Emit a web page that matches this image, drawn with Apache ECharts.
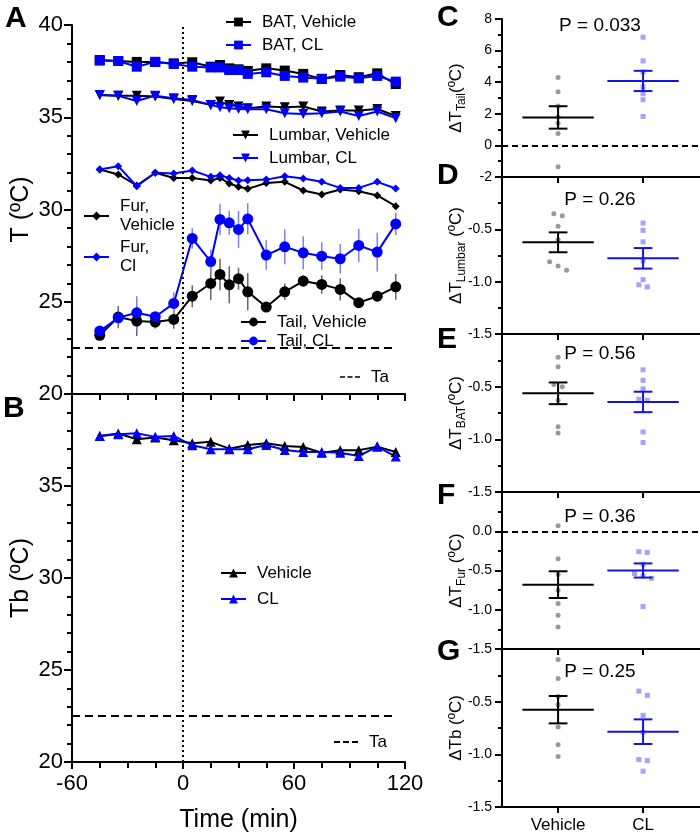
<!DOCTYPE html>
<html><head><meta charset="utf-8">
<script src="https://cdn.jsdelivr.net/npm/echarts@6/dist/echarts.min.js"></script>
<style>html,body{margin:0;padding:0;background:#fff}#c{width:700px;height:838px}</style>
</head><body><div id="c"></div>
<script>
const FONT = 'Liberation Sans, Arial, sans-serif';
const BLUE = '#0000ff';
// ---- Panel A / B data ----
const timesA = [-45,-35,-25,-15,-5,5,15,20,25,30,35,45,55,65,75,85,95,105,115];
const timesB = [-45,-35,-25,-15,-5,5,15,25,35,45,55,65,75,85,95,105,115];
const batVeh = [38.1,38.05,38.0,38.0,37.92,37.98,37.74,37.83,37.65,37.6,37.51,37.65,37.53,37.35,37.08,37.29,37.17,37.38,36.8];
const batCL  = [38.07,38.05,37.74,38.0,37.89,37.74,37.7,37.7,37.56,37.56,37.35,37.44,37.24,37.15,37.08,37.2,37.11,37.24,36.93];
const lumVeh = [36.21,36.17,36.17,36.12,35.99,35.88,35.67,35.85,35.67,35.58,35.49,35.58,35.54,35.58,35.31,35.36,35.36,35.45,35.07];
const lumCL  = [36.21,36.16,35.88,36.17,36.03,35.94,35.67,35.54,35.49,35.45,35.43,35.43,35.22,35.18,35.22,35.31,35.07,35.31,34.95];
const furVeh = [32.17,31.9,31.3,31.99,31.71,31.71,31.57,31.71,31.41,31.23,31.12,31.44,31.5,31.03,30.81,31.08,30.99,30.76,30.18];
const furCL  = [32.17,32.35,31.26,31.99,31.95,32.11,31.77,31.86,31.71,31.57,31.59,31.62,31.8,31.68,31.5,31.17,31.17,31.5,31.14];
const tailVeh = [23.18,24.17,23.95,23.9,24.04,25.3,25.99,26.48,25.92,26.25,25.54,24.71,25.54,26.12,25.94,25.67,24.95,25.3,25.81];
const tailCL  = [23.41,24.13,24.4,24.19,24.91,28.43,27.18,29.46,29.28,28.92,29.49,27.53,27.98,27.65,27.47,27.33,28.05,27.69,29.22];
const tailVehSem = [0.2,0.6,0.8,0.35,0.5,0.6,0.9,0.85,1.0,0.6,1.0,0.2,0.45,0.3,0.5,0.6,0.2,0.3,0.7];
const tailCLSem  = [0.15,0.3,0.9,0.2,0.6,0.55,0.65,0.85,0.65,1.0,0.85,0.8,0.95,0.9,0.75,0.8,0.9,1.05,0.6];
const tbVeh = [37.72,37.85,37.54,37.63,37.49,37.32,37.4,37.03,37.23,37.32,37.18,37.12,36.81,36.94,36.94,37.14,36.85];
const tbCL  = [37.72,37.81,37.87,37.67,37.72,37.21,37.0,37.0,37.0,37.23,36.96,36.85,36.85,36.81,36.63,37.14,36.6];
const ta = 22.5;
// ---- Panels C-G data ----
const groupLabels = ['Vehicle','CL'];
const panelNames = ['Tail','Lumbar','BAT','Fur','b'];
const pValues = ['P = 0.033','P = 0.26','P = 0.56','P = 0.36','P = 0.25'];
const dotsVeh = [
  [4.3,3.4,2.5,1.8,1.4,0.75,-1.35],
  [-0.35,-0.37,-0.47,-0.6,-0.81,-0.85,-0.89],
  [-0.22,-0.31,-0.48,-0.50,-0.63,-0.88,-0.94],
  [0.07,-0.35,-0.55,-0.75,-0.92,-1.07,-1.22],
  [-0.10,-0.28,-0.45,-0.53,-0.74,-0.91,-1.02]
];
const dotsCL = [
  [6.85,5.35,4.65,3.7,3.27,2.89,1.83],
  [-0.44,-0.51,-0.62,-0.80,-0.98,-1.03,-1.05],
  [-0.34,-0.44,-0.52,-0.62,-0.63,-0.93,-1.03],
  [-0.26,-0.27,-0.42,-0.54,-0.57,-0.60,-0.96],
  [-0.40,-0.44,-0.63,-0.79,-1.05,-1.06,-1.16]
];
const meanVeh = [1.77,-0.624,-0.563,-0.68,-0.576];
const semVeh  = [0.71,0.095,0.103,0.17,0.13];
const meanCL  = [4.08,-0.777,-0.645,-0.50,-0.785];
const semCL   = [0.64,0.098,0.097,0.09,0.117];
const yMin = [-2,-1.5,-1.5,-1.5,-1.5];
const yMax = [8,0,0,0.5,0];
const yInt = [2,0.5,0.5,0.5,0.5];

// ---- layout ----
const gridsSmall = [[19,158],[177,157],[334,158],[492,157],[649,158]];
const grids = [
  {left:72, top:25, width:333, height:369},
  {left:72, top:394, width:333, height:368}
];
gridsSmall.forEach(g => grids.push({left:502, top:g[0], width:198, height:g[1]}));

const axLine = {onZero:false, lineStyle:{color:'#000', width:2}};
const xAxes = [], yAxes = [];
[0,1].forEach(i => {
  xAxes.push({type:'value', gridIndex:i, min:-60, max:120, interval:60,
    axisLine:axLine, axisTick:{length:7, lineStyle:{color:'#000',width:2}},
    minorTick:{show:true, splitNumber:4, length:6, lineStyle:{color:'#000',width:2}},
    splitLine:{show:false}, minorSplitLine:{show:false},
    axisLabel:{show:i===1, color:'#000', fontSize:22, fontFamily:FONT, margin:11},
    name: i===1 ? 'Time (min)' : '', nameLocation:'middle', nameGap:46, nameMoveOverlap:false,
    nameTextStyle:{color:'#000', fontSize:25, fontFamily:FONT}
  });
  yAxes.push({type:'value', gridIndex:i, min:20, max:40, interval:5,
    axisLine:{show:true, ...axLine}, axisTick:{show:true, length:8, lineStyle:{color:'#000',width:2}},
    minorTick:{show:true, splitNumber:5, length:5, lineStyle:{color:'#000',width:2}},
    splitLine:{show:false}, minorSplitLine:{show:false},
    axisLabel:{color:'#000', fontSize:22, fontFamily:FONT, margin:9, showMaxLabel: i===0},
    name: i===0 ? 'T (ºC)' : 'Tb (ºC)', nameLocation:'middle', nameGap:38, nameMoveOverlap:false,
    nameTextStyle:{color:'#000', fontSize:25, fontFamily:FONT}
  });
});
for (let k=0;k<5;k++){
  const gi = k+2;
  xAxes.push({type:'value', gridIndex:gi, min:0.34, max:2.67,
    axisLine:axLine,
    axisTick:{show:true, length:6, customValues:[1,2], lineStyle:{color:'#000',width:2}},
    splitLine:{show:false},
    axisLabel:{show:k===4, customValues:[1,2], color:'#000', fontSize:17, fontFamily:FONT, margin:10,
      formatter: v => groupLabels[Math.round(v)-1] || ''}
  });
  const sub = panelNames[k];
  const nm = k===4 ? '{d|ΔTb (ºC)}' : ('{d|ΔT}{s|' + sub + '}{d|' + ((k===0||k===2)?'(ºC)':' (ºC)') + '}');
  yAxes.push({type:'value', gridIndex:gi, min:yMin[k], max:yMax[k], interval:yInt[k],
    axisLine:{show:true, ...axLine}, axisTick:{show:true, length:7, lineStyle:{color:'#000',width:2}},
    minorTick:{show:true, splitNumber:2, length:4, lineStyle:{color:'#000',width:2}},
    splitLine:{show:false}, minorSplitLine:{show:false},
    axisLabel:{color:'#000', fontSize:14, fontFamily:FONT, margin:10, showMaxLabel: k===0,
      formatter: v => k===0 ? String(v) : v.toFixed(1)},
    name:nm, nameLocation:'middle', nameGap:34, nameMoveOverlap:false,
    nameTextStyle:{color:'#000', fontFamily:FONT, rich:{
      d:{fontSize:17, fontFamily:FONT, color:'#000', lineHeight:24},
      s:{fontSize:12, fontFamily:FONT, color:'#000', lineHeight:12, verticalAlign:'bottom'}
    }}
  });
}

function lineSeries(name, xs, ys, color, symbol, size, axis, extra){
  return Object.assign({type:'line', name, xAxisIndex:axis, yAxisIndex:axis,
    data: xs.map((x,i)=>[x, ys[i]]), symbol, symbolSize:size,
    lineStyle:{color, width:2}, itemStyle:{color}, z:4, animation:false}, extra||{});
}
function errSeries(xs, ys, es, color){
  return {type:'custom', xAxisIndex:0, yAxisIndex:0, z:2, animation:false, silent:true,
    data: xs.map((x,i)=>[x, ys[i], es[i]]), encode:{x:0, y:1},
    renderItem:(p, api)=>{
      const x=api.value(0), y=api.value(1), e=api.value(2);
      const a=api.coord([x,y-e]), b=api.coord([x,y+e]);
      return {type:'line', shape:{x1:a[0],y1:a[1],x2:b[0],y2:b[1]}, style:{stroke:color, lineWidth:1.5}};
    }};
}
const dottedMark = {silent:true, symbol:'none', label:{show:false}, animation:false,
  lineStyle:{type:[2,3], color:'#000', width:2}, data:[{xAxis:0}]};
function taSeries(axis){
  return {type:'line', name:'Ta', xAxisIndex:axis, yAxisIndex:axis, data:[[-60,ta],[115,ta]],
    symbol:'none', lineStyle:{color:'#000', width:2, type:[8,5]}, itemStyle:{color:'#000'}, z:1,
    animation:false, markLine:dottedMark};
}

const series = [
  taSeries(0),
  errSeries(timesA, tailVeh, tailVehSem, '#666666'),
  errSeries(timesA, tailCL, tailCLSem, '#7f7fff'),
  lineSeries('BAT, Vehicle', timesA, batVeh, '#000', 'rect', 10, 0),
  lineSeries('BAT, CL', timesA, batCL, BLUE, 'rect', 10, 0),
  lineSeries('Lumbar, Vehicle', timesA, lumVeh, '#000', 'triangle', 10, 0, {symbolRotate:180}),
  lineSeries('Lumbar, CL', timesA, lumCL, BLUE, 'triangle', 10, 0, {symbolRotate:180}),
  lineSeries('Fur, Vehicle', timesA, furVeh, '#000', 'diamond', 8, 0),
  lineSeries('Fur, Cl', timesA, furCL, BLUE, 'diamond', 8, 0),
  lineSeries('Tail, Vehicle', timesA, tailVeh, '#000', 'circle', 11, 0),
  lineSeries('Tail, CL', timesA, tailCL, BLUE, 'circle', 11, 0),
  taSeries(1),
  lineSeries('Vehicle', timesB, tbVeh, '#000', 'triangle', 10, 1),
  lineSeries('CL', timesB, tbCL, BLUE, 'triangle', 10, 1)
];

function jitter(vals, center, thr){
  const idx = vals.map((v,i)=>i).sort((a,b)=>vals[b]-vals[a]);
  const out = new Array(vals.length);
  let i=0;
  while(i<idx.length){
    let j=i;
    while(j+1<idx.length && Math.abs(vals[idx[j+1]]-vals[idx[j]])<thr) j++;
    const k=j-i+1;
    for(let m=i;m<=j;m++) out[idx[m]] = [center + (m-i-(k-1)/2)*0.1, vals[idx[m]]];
    i=j+1;
  }
  return out;
}
function meanSem(gi, x, m, s, color){
  return {type:'custom', xAxisIndex:gi, yAxisIndex:gi, z:5, animation:false, silent:true,
    data:[[x,m,s]], encode:{x:0,y:1},
    renderItem:(p, api)=>{
      const x=api.value(0), m=api.value(1), s=api.value(2);
      const L=(a,b)=>({type:'line', shape:{x1:a[0],y1:a[1],x2:b[0],y2:b[1]}, style:{stroke:color, lineWidth:2}});
      return {type:'group', children:[
        L(api.coord([x-0.42,m]), api.coord([x+0.42,m])),
        L(api.coord([x,m-s]), api.coord([x,m+s])),
        L(api.coord([x-0.11,m+s]), api.coord([x+0.11,m+s])),
        L(api.coord([x-0.11,m-s]), api.coord([x+0.11,m-s]))
      ]};
    }};
}
for (let k=0;k<5;k++){
  const gi=k+2;
  const thr = 4.5 / (gridsSmall[k][1]/(yMax[k]-yMin[k]));
  const sv = {type:'scatter', xAxisIndex:gi, yAxisIndex:gi, symbol:'circle', symbolSize:5,
    itemStyle:{color:'#808080'}, data:jitter(dotsVeh[k],1,thr), z:3, animation:false};
  if (k===0 || k===3) sv.markLine = {silent:true, symbol:'none', label:{show:false}, animation:false,
    lineStyle:{type:[6,4], color:'#000', width:2}, data:[{yAxis:0}]};
  series.push(sv);
  series.push({type:'scatter', xAxisIndex:gi, yAxisIndex:gi, symbol:'rect', symbolSize:5,
    itemStyle:{color:'#8c8cf8'}, data:jitter(dotsCL[k],2,thr), z:3, animation:false});
  series.push(meanSem(gi, 1, meanVeh[k], semVeh[k], '#000'));
  series.push(meanSem(gi, 2, meanCL[k], semCL[k], '#1414e0'));
}

const legTxt = {color:'#000', fontSize:17, fontFamily:FONT, padding:[0,0,0,6], lineHeight:18};
function leg(data, left, top, gap, width, extra){
  return Object.assign({data, left, top, orient:'vertical', itemGap:gap, itemWidth:width||25, itemHeight:11,
    selectedMode:false, textStyle:legTxt, padding:0}, extra||{});
}
const dashIcon = 'path://M0,0h6v2h-6z M9,0h6v2h-6z M18,0h6v2h-6z';
const legends = [
  leg(['BAT, Vehicle','BAT, CL'], 225, 13, 5),
  leg(['Lumbar, Vehicle','Lumbar, CL'], 232, 126, 5),
  leg(['Fur, Vehicle','Fur, Cl'], 83, 197, 3, 25, {formatter: n => n.replace(', ', ',\n'),
      textStyle:Object.assign({}, legTxt, {lineHeight:19})}),
  leg(['Tail, Vehicle','Tail, CL'], 240, 313, 1),
  leg([{name:'Ta', icon:dashIcon}], 340, 368, 0, 20, {itemHeight:2}),
  leg(['Vehicle','CL'], 220, 564, 8),
  leg([{name:'Ta', icon:dashIcon}], 334, 733, 0, 24, {itemHeight:2})
];

const graphics = [];
[['A',5,19],['B',3,409],['C',437,18],['D',437,176],['E',437,340],['F',437,496],['G',437,652]].forEach(t=>{
  graphics.push({type:'text', x:t[1], y:t[2], style:{text:t[0], font:'bold 30px '+FONT, fill:'#000', align:'left', verticalAlign:'middle'}});
});
const pY = [26,200,354,517,672];
pValues.forEach((p,i)=>graphics.push({type:'text', x:600, y:pY[i], style:{text:p, font:'19px '+FONT, fill:'#000', align:'center', verticalAlign:'middle'}}));

const chart = echarts.init(document.getElementById('c'), null, {renderer:'canvas'});
chart.setOption({
  backgroundColor:'#fff', animation:false,
  grid:grids, xAxis:xAxes, yAxis:yAxes, series, legend:legends, graphic:graphics
});
</script></body></html>
